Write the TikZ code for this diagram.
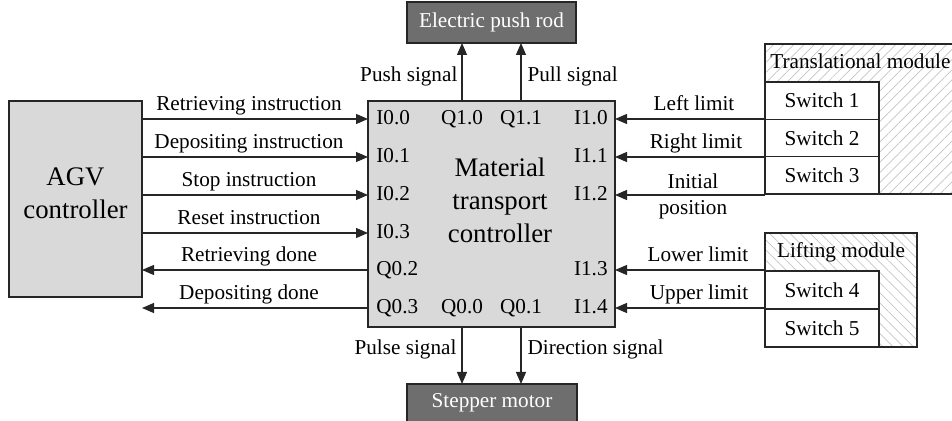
\documentclass[tikz,border=0pt]{standalone}
\usepackage{fontspec}
\setmainfont{Liberation Serif}
\usetikzlibrary{arrows.meta,patterns.meta,calc}

\definecolor{boxgray}{HTML}{D9D9D9}
\definecolor{darkbox}{HTML}{6E6E6E}
\definecolor{hatchgray}{HTML}{C4C4C4}

\begin{document}
\begin{tikzpicture}[x=0.5pt,y=-0.5pt,
  lbl/.style={font=\fontsize{10.6}{12}\selectfont, inner sep=0pt, text height=1.45ex, text depth=0.3ex},
  big/.style={font=\fontsize{13.4}{16.5}\selectfont, align=center, inner sep=0pt},
  box/.style={draw=black!85, line width=0.6pt, inner sep=0pt, outer sep=0pt},
  greybox/.style={box, fill=boxgray},
  darkbox/.style={box, fill=darkbox, text=white, font=\fontsize{10.6}{12}\selectfont},
  switchbox/.style={box, fill=white, minimum width=57pt, minimum height=18.67pt, font=\fontsize{10.6}{12}\selectfont},
  sig/.style={draw=black!85, line width=0.6pt, -{Triangle[length=6pt,width=5pt]}},
  hatch/.style={box, pattern={Lines[angle=#1,distance=3.6pt,line width=0.35pt]}, pattern color=hatchgray},
]
\useasboundingbox (0,0) rectangle (952,421);

% main blocks
\node[greybox, minimum width=66.5pt, minimum height=98pt] (agv) at (75.5,199) {};
\node[big] at (75.5,193) {AGV\\controller};
\node[greybox, minimum width=123.5pt, minimum height=113pt] (mtc) at (491.5,214) {};
\node[big] at (500,200) {Material\\transport\\controller};
\node[darkbox, minimum width=84.5pt, minimum height=20.5pt] (rod) at (491.5,22.5) {Electric push rod};
\node[darkbox, minimum width=85pt, minimum height=19pt] (motor) at (492,403) {Stepper motor};

% translational module with its limit switches
\node[hatch=45, minimum width=97.5pt, minimum height=75pt] (trans) at (862.5,119) {};
\node[lbl, anchor=west] at (770,63) {Translational module};
\node[switchbox] (s1) at (822,100.67) {Switch 1};
\node[switchbox] (s2) at (822,138) {Switch 2};
\node[switchbox] (s3) at (822,175.33) {Switch 3};

% lifting module with its limit switches
\node[hatch=-45, minimum width=76pt, minimum height=57pt] (lift) at (841,290) {};
\node[lbl] at (841,252) {Lifting module};
\node[switchbox, minimum height=19pt] (s4) at (822,290) {Switch 4};
\node[switchbox, minimum height=19pt] (s5) at (822,328) {Switch 5};

% controller ports
\node[lbl, anchor=west] (p00) at (376,119) {I0.0};
\node[lbl, anchor=west] (p01) at (376,157) {I0.1};
\node[lbl, anchor=west] (p02) at (376,195) {I0.2};
\node[lbl, anchor=west] (p03) at (376,233) {I0.3};
\node[lbl, anchor=west] (q02) at (376,270) {Q0.2};
\node[lbl, anchor=west] (q03) at (376,308) {Q0.3};
\node[lbl] (q10) at (462,119) {Q1.0};
\node[lbl] (q11) at (521,119) {Q1.1};
\node[lbl] (q00) at (462,308) {Q0.0};
\node[lbl] (q01) at (521,308) {Q0.1};
\node[lbl, anchor=east] (p10) at (608,119) {I1.0};
\node[lbl, anchor=east] (p11) at (608,157) {I1.1};
\node[lbl, anchor=east] (p12) at (608,195) {I1.2};
\node[lbl, anchor=east] (p13) at (608,270) {I1.3};
\node[lbl, anchor=east] (p14) at (608,308) {I1.4};

% AGV <-> controller
\draw[sig] (agv.east |- p00) -- node[lbl, above=2.5pt, xshift=-3pt] {Retrieving instruction} (mtc.west |- p00);
\draw[sig] (agv.east |- p01) -- node[lbl, above=2.5pt, xshift=-3pt] {Depositing instruction} (mtc.west |- p01);
\draw[sig] (agv.east |- p02) -- node[lbl, above=2.5pt, xshift=-3pt] {Stop instruction} (mtc.west |- p02);
\draw[sig] (agv.east |- p03) -- node[lbl, above=2.5pt, xshift=-3pt] {Reset instruction} (mtc.west |- p03);
\draw[sig] (mtc.west |- q02) -- node[lbl, above=2.5pt, xshift=-3pt] {Retrieving done} (agv.east |- q02);
\draw[sig] (mtc.west |- q03) -- node[lbl, above=2.5pt, xshift=-3pt] {Depositing done} (agv.east |- q03);

% limit switches -> controller
\draw[sig] (s1.west |- p10) -- node[lbl, above=2.5pt, xshift=2pt] {Left limit} (mtc.east |- p10);
\draw[sig] (s1.west |- p11) -- node[lbl, above=2.5pt, xshift=3pt] {Right limit} (mtc.east |- p11);
\draw[sig] (s1.west |- p12) -- node[font=\fontsize{10.6}{13}\selectfont, align=center, inner sep=0pt, xshift=1.5pt, yshift=-0.5pt] {Initial\\position} (mtc.east |- p12);
\draw[sig] (s4.west |- p13) -- node[lbl, above=2.5pt, xshift=4pt] {Lower limit} (mtc.east |- p13);
\draw[sig] (s4.west |- p14) -- node[lbl, above=2.5pt, xshift=4.5pt] {Upper limit} (mtc.east |- p14);

% push rod and stepper motor signals
\draw[sig] (q10 |- mtc.north) -- node[lbl, left=2pt, yshift=-2pt] {Push signal} (q10 |- rod.south);
\draw[sig] (q11 |- mtc.north) -- node[lbl, right=3pt, yshift=-2pt] {Pull signal} (q11 |- rod.south);
\draw[sig] (q00 |- mtc.south) -- node[lbl, left=2.5pt, yshift=3pt] {Pulse signal} (q00 |- motor.north);
\draw[sig] (q01 |- mtc.south) -- node[lbl, right=3pt, yshift=3pt] {Direction signal} (q01 |- motor.north);
\end{tikzpicture}
\end{document}
